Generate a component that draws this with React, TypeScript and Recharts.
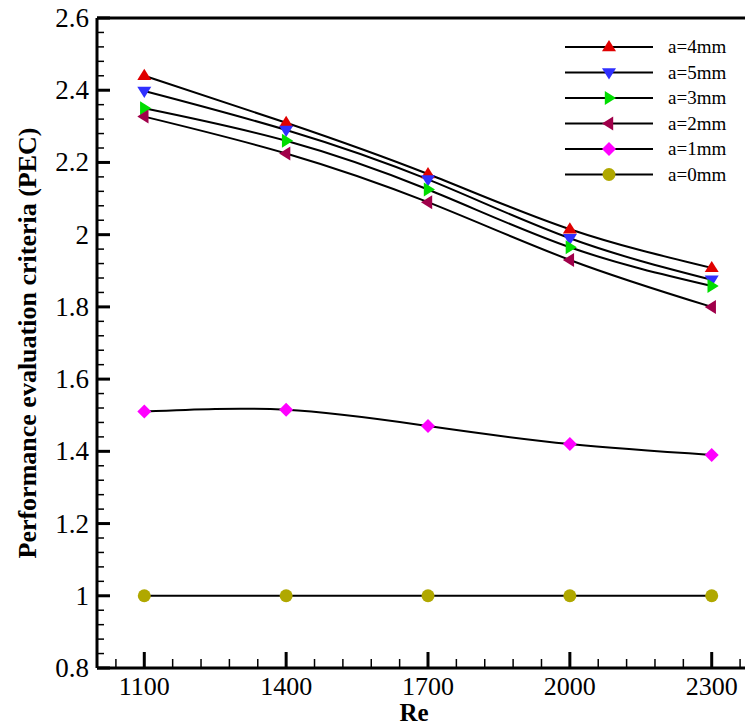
import React from 'react';
import { LineChart, Line, XAxis, YAxis } from 'recharts';

const reValues = [1100, 1400, 1700, 2000, 2300];
const a4 = [2.44, 2.31, 2.168, 2.015, 1.908];
const a5 = [2.398, 2.29, 2.153, 1.99, 1.875];
const a3 = [2.35, 2.26, 2.125, 1.965, 1.858];
const a2 = [2.327, 2.225, 2.09, 1.93, 1.8];
const a1 = [1.51, 1.515, 1.47, 1.42, 1.39];
const a0 = [1, 1, 1, 1, 1];
const xTicks = [1040,1100,1160,1220,1280,1340,1400,1460,1520,1580,1640,1700,1760,1820,1880,1940,2000,2060,2120,2180,2240,2300,2360];
const xMajor = [1100, 1400, 1700, 2000, 2300];
const yTicks = Array.from({ length: 46 }, (_, i) => Math.round((0.8 + i * 0.04) * 100) / 100);
const yMajor = [0.8, 1, 1.2, 1.4, 1.6, 1.8, 2, 2.2, 2.4, 2.6];

const data = reValues.map((re, i) => ({ re, a4: a4[i], a5: a5[i], a3: a3[i], a2: a2[i], a1: a1[i], a0: a0[i] }));

const FONT = "'Liberation Serif', 'DejaVu Serif', serif";
const fs = (size: number, bold = false): React.CSSProperties => ({ fontFamily: FONT, fontSize: `${size}px`, fontWeight: bold ? 'bold' : 'normal' });

function Marker({ kind, color, cx, cy }: any) {
  const s = 7;
  let d = '';
  if (kind === 'up') d = `M${cx},${cy - s} L${cx + s},${cy + s * 0.6} L${cx - s},${cy + s * 0.6}Z`;
  if (kind === 'down') d = `M${cx},${cy + s} L${cx + s},${cy - s * 0.6} L${cx - s},${cy - s * 0.6}Z`;
  if (kind === 'right') d = `M${cx + s},${cy} L${cx - s * 0.6},${cy - s} L${cx - s * 0.6},${cy + s}Z`;
  if (kind === 'left') d = `M${cx - s},${cy} L${cx + s * 0.6},${cy - s} L${cx + s * 0.6},${cy + s}Z`;
  if (kind === 'diamond') d = `M${cx},${cy - s} L${cx + s},${cy} L${cx},${cy + s} L${cx - s},${cy}Z`;
  if (kind === 'circle') return <circle cx={cx} cy={cy} r={6.5} fill={color} />;
  return <path d={d} fill={color} />;
}

const series = [
  { key: 'a4', name: 'a=4mm', kind: 'up', color: '#e00000' },
  { key: 'a5', name: 'a=5mm', kind: 'down', color: '#3030ff' },
  { key: 'a3', name: 'a=3mm', kind: 'right', color: '#00dd00' },
  { key: 'a2', name: 'a=2mm', kind: 'left', color: '#a0004a' },
  { key: 'a1', name: 'a=1mm', kind: 'diamond', color: '#ff00ff' },
  { key: 'a0', name: 'a=0mm', kind: 'circle', color: '#b0a800' },
];

const renderYTick = (p: any) => {
  const v = p.payload.value;
  const major = yMajor.some((m) => Math.abs(m - v) < 1e-6);
  return (
    <g key={`y-${v}`}>
      <line x1={p.x} x2={p.x + (major ? 13 : 7)} y1={p.y} y2={p.y} stroke="#000" strokeWidth={major ? 3 : 1.5} />
      {major && (
        <text x={p.x - 8} y={p.y + 9} textAnchor="end" style={fs(27)} fill="#000">{String(v)}</text>
      )}
    </g>
  );
};

const renderXTick = (p: any) => {
  const v = p.payload.value;
  const major = xMajor.includes(v);
  return (
    <g key={`x-${v}`}>
      <line x1={p.x} x2={p.x} y1={p.y} y2={p.y - (major ? 16 : 9)} stroke="#000" strokeWidth={major ? 3 : 1.5} />
      {major && (
        <text x={p.x} y={p.y + 27} textAnchor="middle" style={fs(26)} fill="#000">{String(v)}</text>
      )}
    </g>
  );
};

export default function App() {
  return (
    <div style={{ position: 'relative', width: 770, height: 719, overflow: 'visible' }}>
      <LineChart width={770} height={719} data={data} margin={{ top: 10, right: 19, left: 0, bottom: 0 }}>
        <XAxis dataKey="re" type="number" domain={[1000, 2400]} ticks={xTicks} tick={renderXTick} tickSize={0} tickMargin={0}
          axisLine={{ stroke: '#000', strokeWidth: 3 }} tickLine={false} height={59} interval={0} />
        <YAxis type="number" domain={[0.8, 2.6]} ticks={yTicks} tick={renderYTick} tickSize={0} tickMargin={0} width={89}
          axisLine={{ stroke: '#000', strokeWidth: 3 }} tickLine={false} interval={0} />
        {series.map((s) => (
          <Line key={s.key} dataKey={s.key} type="natural" stroke="#000" strokeWidth={2} isAnimationActive={false}
            dot={(p: any) => <Marker key={`${s.key}-${p.index}`} kind={s.kind} color={s.color} cx={p.cx} cy={p.cy} />} />
        ))}
      </LineChart>
      <svg width={770} height={719} style={{ position: 'absolute', left: 0, top: 0, pointerEvents: 'none' }}>
        <line x1={89} x2={770} y1={10} y2={10} stroke="#000" strokeWidth={3} />
        <text transform="translate(28,335) rotate(-90)" textAnchor="middle" style={fs(26, true)}>
          Performance evaluation criteria (PEC)
        </text>
        <text x={406} y={713} textAnchor="middle" style={fs(25, true)}>Re</text>
        {series.map((s, i) => {
          const y = 39 + i * 25.5;
          return (
            <g key={s.key}>
              <line x1={557} x2={645} y1={y} y2={y} stroke="#000" strokeWidth={2} />
              <Marker kind={s.kind} color={s.color} cx={601} cy={y} />
              <text x={660} y={y + 6} style={fs(19)}>{s.name}</text>
            </g>
          );
        })}
      </svg>
    </div>
  );
}
